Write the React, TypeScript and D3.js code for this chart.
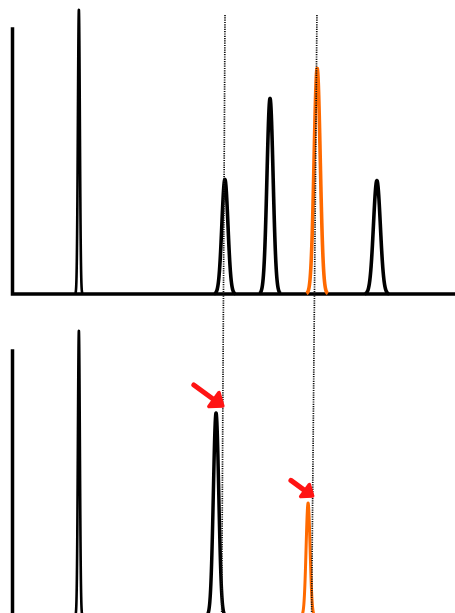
import React from "react";
import * as d3 from "d3";

const WIDTH = 455;
const HEIGHT = 613;

// Upper trace: retention time (min), peak height (% full scale), peak sigma (min)
const upperCompounds = ["solvent", "A", "B", "target", "C"];
const upperTimes = [3.0, 9.6, 11.64, 13.77, 16.47];
const upperHeights = [107.2, 43.2, 73.8, 85.1, 42.8];
const upperSigmas = [0.045, 0.138, 0.138, 0.138, 0.156];

// Lower trace
const lowerCompounds = ["solvent", "A", "target"];
const lowerTimes = [3.0, 9.2, 13.36];
const lowerHeights = [107.6, 76.6, 42.6];
const lowerSigmas = [0.045, 0.122, 0.09];

// Reference retention-time guides (top end, bottom end) and the peaks they flag below
const guideTimesTop = [9.605, 13.76];
const guideTimesBottom = [9.455, 13.52];
const flaggedCompounds = ["A", "target"];

const x = d3.scaleLinear().domain([0, 20]).range([12.5, 455]);
const yUpper = d3.scaleLinear().domain([0, 100]).range([294, 29]);
const yLower = d3.scaleLinear().domain([0, 100]).range([616, 351]);

const GUIDE_TOP = 15;

const line = d3.line<[number, number]>();

function peakPath(
  t0: number,
  h: number,
  s: number,
  y: d3.ScaleLinear<number, number>
) {
  const pts: [number, number][] = d3
    .range(-3.5, 3.5001, 0.02)
    .map((k) => [x(t0 + k * s), y(h * Math.exp((-k * k) / 2))]);
  return line(pts) || "";
}

function guideX(i: number, py: number) {
  const x0 = x(guideTimesTop[i]);
  const x1 = x(guideTimesBottom[i]);
  return x0 + ((x1 - x0) * (py - GUIDE_TOP)) / (HEIGHT - GUIDE_TOP);
}

function colorFor(c: string) {
  return c === "target" ? "#ff6a00" : "#000";
}

function Arrow({ tx, ty, dx, dy, barb }: { tx: number; ty: number; dx: number; dy: number; barb: number }) {
  const ang = Math.atan2(dy, dx);
  const spread = (38 * Math.PI) / 180;
  const b1: [number, number] = [
    tx - barb * Math.cos(ang - spread),
    ty - barb * Math.sin(ang - spread),
  ];
  const b2: [number, number] = [
    tx - barb * Math.cos(ang + spread),
    ty - barb * Math.sin(ang + spread),
  ];
  return (
    <g stroke="#ff1414" strokeWidth={5} fill="none" strokeLinejoin="round" strokeLinecap="round">
      <path d={line([[tx - dx, ty - dy], [tx - 3, ty - 2]]) || ""} />
      <path d={(line([b1, [tx, ty], b2]) || "") + "Z"} fill="#ff1414" strokeWidth={3.5} />
    </g>
  );
}

export default function App() {
  const axisStroke = 3.5;
  return (
    <svg
      width={WIDTH}
      height={HEIGHT}
      style={{ position: "absolute", left: 0, top: 0, background: "#fff" }}
    >
      {/* panel axes */}
      <g stroke="#000" strokeWidth={axisStroke} strokeLinecap="square" fill="none">
        <path d={line([[x(0), yUpper(100)], [x(0), yUpper(0)], [x(20), yUpper(0)]]) || ""} />
        <path d={line([[x(0), yLower(100)], [x(0), yLower(0)], [x(20), yLower(0)]]) || ""} />
      </g>

      {/* upper trace */}
      <g fill="none" strokeLinejoin="round">
        {upperTimes.map((t, i) => (
          <path
            key={"u" + i}
            d={peakPath(t, upperHeights[i], upperSigmas[i], yUpper)}
            stroke={colorFor(upperCompounds[i])}
            strokeWidth={i === 0 ? 2.6 : 3.6}
          />
        ))}
      </g>

      {/* lower trace */}
      <g fill="none" strokeLinejoin="round">
        {lowerTimes.map((t, i) => (
          <path
            key={"l" + i}
            d={peakPath(t, lowerHeights[i], lowerSigmas[i], yLower)}
            stroke={colorFor(lowerCompounds[i])}
            strokeWidth={i === 0 ? 2.6 : i === 2 ? 3 : 3.5}
          />
        ))}
      </g>

      {/* retention-time guides */}
      <g stroke="#111" strokeWidth={1.7} strokeDasharray="1.2 1.1" fill="none">
        {guideTimesTop.map((_, i) => (
          <path
            key={"g" + i}
            d={line([[guideX(i, GUIDE_TOP), GUIDE_TOP], [guideX(i, HEIGHT), HEIGHT]]) || ""}
          />
        ))}
      </g>

      {/* arrows flagging shifted peaks */}
      {flaggedCompounds.map((c, i) => {
        const k = lowerCompounds.indexOf(c);
        const ty = yLower(lowerHeights[k]) - 7;
        const tx = guideX(i, ty);
        const len = i === 0 ? 1 : 0.75;
        return <Arrow key={c} tx={tx} ty={ty} dx={29 * len} dy={21 * len} barb={i === 0 ? 14 : 12} />;
      })}
    </svg>
  );
}
